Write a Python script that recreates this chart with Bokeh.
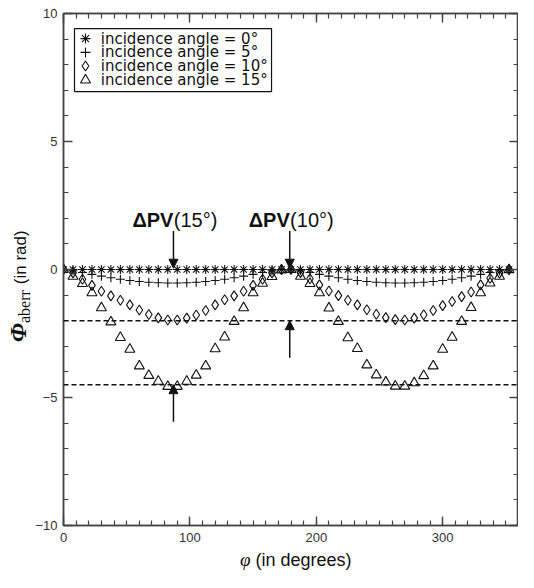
from bokeh.plotting import figure
from bokeh.models import (Range1d, LinearAxis, FixedTicker, Span, Label, Arrow,
                          NormalHead, ColumnDataSource, Div)
from bokeh.layouts import row, column
from bokeh.core.properties import value
from bokeh.embed import file_html
from bokeh.resources import INLINE

# ---------------- data ----------------
phi = [0, 7.5, 15, 22.5, 30, 37.5, 45, 52.5, 60, 67.5, 75, 82.5,
       90, 97.5, 105, 112.5, 120, 127.5, 135, 142.5, 150, 157.5, 165, 172.5,
       180, 187.5, 195, 202.5, 210, 217.5, 225, 232.5, 240, 247.5, 255, 262.5,
       270, 277.5, 285, 292.5, 300, 307.5, 315, 322.5, 330, 337.5, 345, 352.5]

ang0 = [0.0] * 48

ang5 = [0.0, -0.05, -0.12, -0.19, -0.26, -0.32, -0.38, -0.43, -0.47, -0.50, -0.52, -0.53,
        -0.53, -0.52, -0.50, -0.47, -0.43, -0.38, -0.32, -0.26, -0.19, -0.12, -0.05, 0.0,
        0.0, -0.05, -0.12, -0.19, -0.26, -0.32, -0.38, -0.43, -0.47, -0.50, -0.52, -0.53,
        -0.53, -0.52, -0.50, -0.47, -0.43, -0.38, -0.32, -0.26, -0.19, -0.12, -0.05, 0.0]

ang10 = [0.0, -0.13, -0.38, -0.62, -0.85, -1.03, -1.20, -1.38, -1.58, -1.76, -1.89, -1.97,
         -1.97, -1.90, -1.78, -1.60, -1.38, -1.18, -1.03, -0.85, -0.62, -0.38, -0.13, -0.01,
         0.0, -0.12, -0.36, -0.60, -0.84, -1.02, -1.20, -1.38, -1.57, -1.75, -1.88, -1.96,
         -1.97, -1.90, -1.77, -1.60, -1.41, -1.25, -1.06, -0.88, -0.60, -0.34, -0.14, -0.01]

ang15 = [0.0, -0.27, -0.55, -0.91, -1.50, -2.05, -2.66, -3.12, -3.77, -4.14, -4.37, -4.57,
         -4.57, -4.37, -4.13, -3.77, -3.10, -2.64, -2.03, -1.50, -0.91, -0.54, -0.28, -0.02,
         0.0, -0.27, -0.55, -0.91, -1.51, -2.03, -2.67, -3.09, -3.73, -4.12, -4.40, -4.56,
         -4.56, -4.43, -4.15, -3.77, -3.12, -2.65, -2.03, -1.49, -0.91, -0.53, -0.27, -0.01]

legend_labels = ["incidence angle = 0°", "incidence angle = 5°",
                 "incidence angle = 10°", "incidence angle = 15°"]
legend_markers = ["asterisk", "cross", "diamond", "triangle"]

dpv_levels = [-2.0, -4.5]          # dashed reference levels
x_major = [0, 100, 200, 300]
y_major = [-10, -5, 0, 5, 10]
y_labels = {-10: "\u221210", -5: "\u22125", 0: "0", 5: "5", 10: "10"}

src = ColumnDataSource(dict(phi=phi, a0=ang0, a5=ang5, a10=ang10, a15=ang15))

# ---------------- figure ----------------
YLAB_W = 32
p = figure(width=518 - YLAB_W, height=548, x_range=Range1d(0, 360), y_range=Range1d(-10, 10),
           output_backend="svg", toolbar_location=None,
           min_border_left=62 - YLAB_W, min_border_right=0, min_border_top=13,
           min_border_bottom=23, background_fill_color="white", border_fill_color="white")
p.xgrid.visible = False
p.ygrid.visible = False
p.outline_line_color = "#444444"
p.outline_line_width = 1.5

AX = "#444444"

def style_axis(ax, major, minor, show_labels=True):
    ax.ticker = FixedTicker(ticks=major, minor_ticks=minor)
    ax.major_tick_in = 9
    ax.major_tick_out = 0
    ax.minor_tick_in = 5
    ax.minor_tick_out = 0
    ax.axis_line_color = AX
    ax.axis_line_width = 1.5
    ax.major_tick_line_color = AX
    ax.major_tick_line_width = 1.4
    ax.minor_tick_line_color = AX
    ax.minor_tick_line_width = 1.2
    if show_labels:
        ax.major_label_text_font = "Liberation Sans"
        ax.major_label_text_font_size = "13px"
        ax.major_label_text_color = "#333333"
    else:
        ax.major_label_text_font_size = "0px"
        ax.major_label_text_color = None
        ax.major_label_standoff = 0

x_minor = list(range(0, 361, 10))
y_minor = list(range(-10, 11))

style_axis(p.xaxis[0], x_major, x_minor)
p.xaxis[0].major_label_standoff = 7
style_axis(p.yaxis[0], y_major, y_minor)
p.yaxis[0].major_label_standoff = 6
p.yaxis[0].major_label_overrides = y_labels

top = LinearAxis()
style_axis(top, x_major, x_minor, show_labels=False)
p.add_layout(top, "above")
right = LinearAxis()
style_axis(right, y_major, y_minor, show_labels=False)
p.add_layout(right, "right")

# ---------------- dashed levels ----------------
for lv in dpv_levels:
    p.add_layout(Span(location=lv, dimension="width", line_color="#111111",
                      line_width=1.5, line_dash="5 3"))

# ---------------- series ----------------
C = "#111111"
cols = ["a0", "a5", "a10", "a15"]
sizes = [9, 9, 10, 10]
for col, mk, sz in zip(cols, legend_markers, sizes):
    p.scatter("phi", col, source=src, marker=mk, size=sz,
              line_color=C, fill_color=None, line_width=1.1)

# ---------------- legend box (upper left) ----------------
leg_left, leg_right, leg_top, leg_bottom = 8.7, 164.6, 9.41, 6.95
leg_rows = [9.02, 8.48, 7.95, 7.40]
leg_mark_x = 17.4
leg_text_x = 29.5
p.quad(left=[leg_left], right=[leg_right], top=[leg_top], bottom=[leg_bottom],
       fill_color="white", line_color="#111111", line_width=1.2)
leg_src = ColumnDataSource(dict(x=[leg_mark_x] * 4, tx=[leg_text_x] * 4, y=leg_rows,
                                m=legend_markers, t=legend_labels))
p.scatter("x", "y", source=leg_src, marker="m", size=10, line_color=C,
          fill_color=None, line_width=1.1)
p.text("tx", "y", text="t", source=leg_src, text_baseline="middle", text_align="left",
       text_font=value("DejaVu Sans"), text_font_size="15px", text_color="#111111")

# ---------------- Delta PV annotations ----------------
ann_x = [87.0, 179.0]
ann_names = ["(15°)", "(10°)"]
for xa, nm in zip(ann_x, ann_names):
    p.add_layout(Label(x=xa, y=1.95, text="\u0394PV", text_align="right",
                       text_baseline="middle", text_font="Liberation Sans",
                       text_font_style="bold", text_font_size="20px", text_color="#111111"))
    p.add_layout(Label(x=xa + 0.3, y=1.95, text=nm, text_align="left",
                       text_baseline="middle", text_font="Liberation Sans",
                       text_font_size="20px", text_color="#111111"))
    p.add_layout(Arrow(x_start=xa, y_start=1.5, x_end=xa, y_end=0.05, line_width=1.5,
                       line_color="#111111",
                       end=NormalHead(size=9, fill_color="#111111", line_color="#111111")))

up_x = [87.0, 179.0]
up_y0 = [-5.95, -3.45]
up_y1 = [-4.5, -2.0]
for xa, y0, y1 in zip(up_x, up_y0, up_y1):
    p.add_layout(Arrow(x_start=xa, y_start=y0, x_end=xa, y_end=y1, line_width=1.5,
                       line_color="#111111",
                       end=NormalHead(size=9, fill_color="#111111", line_color="#111111")))

# ---------------- axis titles as HTML (subscript, mixed fonts) ----------------
ylab_html = (
    '<div style="position:relative;width:32px;height:548px;">'
    '<div style="position:absolute;left:6px;top:342px;transform-origin:0 0;'
    'transform:rotate(-90deg);white-space:nowrap;line-height:24px;color:#111;">'
    '<span style="font-family:\'Liberation Serif\';font-style:italic;font-weight:bold;'
    'font-size:24px;">\u03a6</span>'
    '<span style="font-family:\'Liberation Serif\';font-size:16px;position:relative;top:4px;">aberr</span>'
    '<span style="font-family:\'Liberation Sans\';font-size:17px;margin-left:6px;">(in rad)</span>'
    '</div></div>')
xlab_html = (
    '<div style="position:relative;width:518px;height:24px;">'
    '<div style="position:absolute;left:240px;top:1px;white-space:nowrap;line-height:22px;color:#111;">'
    '<span style="font-family:\'Liberation Serif\';font-style:italic;font-size:19px;">\u03c6</span>'
    '<span style="font-family:\'Liberation Sans\';font-size:18px;"> (in degrees)</span>'
    '</div></div>')

ylab = Div(text=ylab_html, width=YLAB_W, height=548, margin=0)
xlab = Div(text=xlab_html, width=518, height=24, margin=0)

layout = column(row(ylab, p, spacing=0), xlab, spacing=0)

open("out.html", "w").write(file_html(layout, INLINE))
